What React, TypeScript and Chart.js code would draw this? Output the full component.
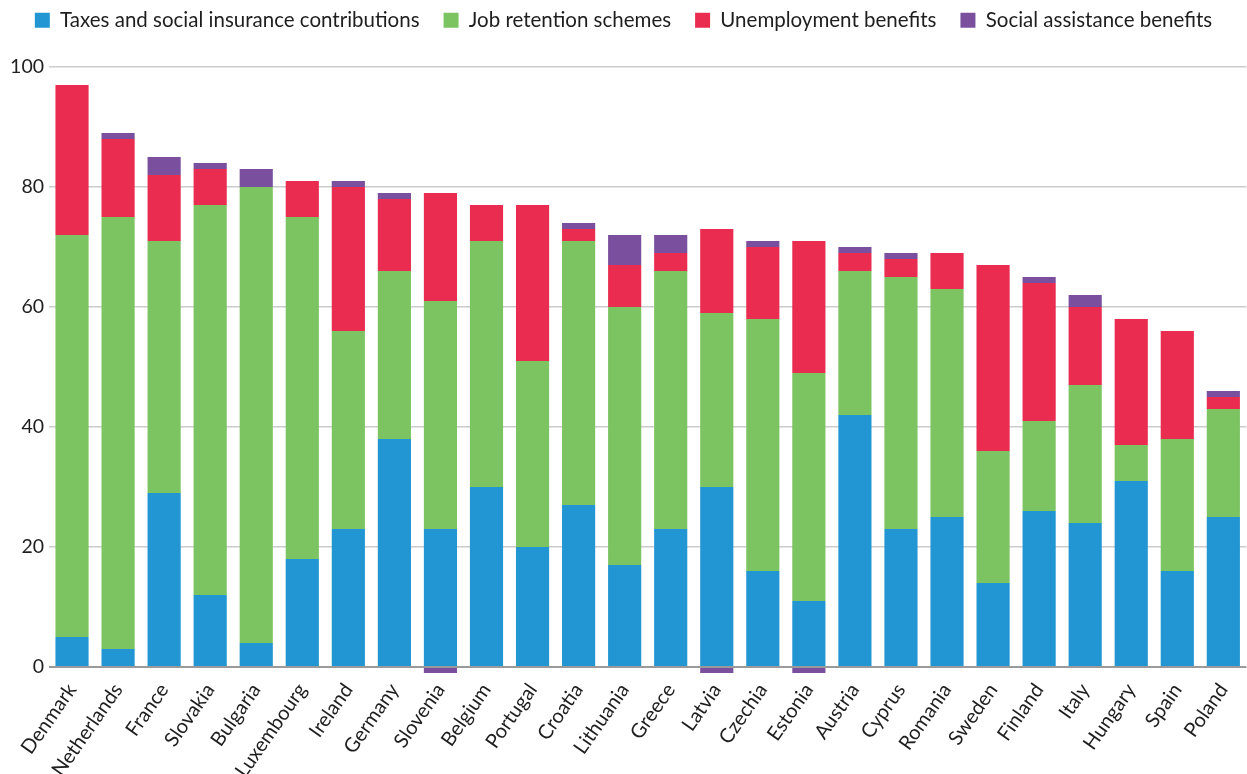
import React, { useEffect, useRef } from "react";
import { Chart, registerables } from "chart.js";

Chart.register(...registerables);

const countries = [
  "Denmark", "Netherlands", "France", "Slovakia", "Bulgaria", "Luxembourg", "Ireland",
  "Germany", "Slovenia", "Belgium", "Portugal", "Croatia", "Lithuania", "Greece",
  "Latvia", "Czechia", "Estonia", "Austria", "Cyprus", "Romania", "Sweden", "Finland",
  "Italy", "Hungary", "Spain", "Poland",
];

const taxes = [5, 3, 29, 12, 4, 18, 23, 38, 23, 30, 20, 27, 17, 23, 30, 16, 11, 42, 23, 25, 14, 26, 24, 31, 16, 25];
const jobRetention = [67, 72, 42, 65, 76, 57, 33, 28, 38, 41, 31, 44, 43, 43, 29, 42, 38, 24, 42, 38, 22, 15, 23, 6, 22, 18];
const unemployment = [25, 13, 11, 6, 0, 6, 24, 12, 18, 6, 26, 2, 7, 3, 14, 12, 22, 3, 3, 6, 31, 23, 13, 21, 18, 2];
const socialAssistance = [0, 1, 3, 1, 3, 0, 1, 1, -1, 0, 0, 1, 5, 3, -1, 1, -1, 1, 1, 0, 0, 1, 2, 0, 0, 1];

const yMin = 0;
const yMax = 100;
const yStep = 20;

const FONT = "Lato, 'Noto Sans', sans-serif";
const TEXT = "#1e1e1e";

export default function App() {
  const ref = useRef<HTMLCanvasElement>(null);

  useEffect(() => {
    document.body.style.margin = "0";
    const legendTweak = {
      id: "legendTweak",
      beforeInit(chart: any) {
        const lg = chart.legend;
        if (lg) {
          const orig = lg.fit.bind(lg);
          lg.fit = function () {
            orig();
            this.height = 67;
          };
        }
      },
      afterLayout(chart: any) {
        const lg = chart.legend;
        if (lg) {
          lg.top -= 14;
          lg.bottom -= 14;
        }
      },
    };

    const chart = new Chart(ref.current!, {
      type: "bar",
      data: {
        labels: countries,
        datasets: [
          { label: "Taxes and social insurance contributions", data: taxes, backgroundColor: "#2196d3" },
          { label: "Job retention schemes", data: jobRetention, backgroundColor: "#7cc462" },
          { label: "Unemployment benefits", data: unemployment, backgroundColor: "#e92c50" },
          { label: "Social assistance benefits", data: socialAssistance, backgroundColor: "#7a509e" },
        ],
      },
      plugins: [legendTweak],
      options: {
        responsive: false,
        animation: false,
        layout: { padding: { left: 0, right: 0, top: 0, bottom: 0 } },
        datasets: {
          bar: { categoryPercentage: 1, barPercentage: 0.72, clip: false, borderWidth: 0 } as any,
        },
        plugins: {
          legend: {
            position: "top",
            align: "center",
            labels: {
              boxWidth: 15,
              boxHeight: 15,
              padding: 24,
              color: TEXT,
              font: { family: FONT, size: 20.5 },
            },
          },
          tooltip: { enabled: false },
        },
        scales: {
          x: {
            stacked: true,
            grid: { display: false },
            border: { display: false },
            ticks: {
              autoSkip: false,
              minRotation: 55,
              maxRotation: 55,
              padding: 4,
              color: TEXT,
              font: { family: FONT, size: 20 },
            },
            afterFit: (s: any) => {
              s.height = 107;
            },
          },
          y: {
            stacked: true,
            min: yMin,
            max: yMax,
            ticks: {
              stepSize: yStep,
              padding: 5,
              color: TEXT,
              font: { family: FONT, size: 19.5 },
            },
            grid: {
              drawTicks: false,
              color: (ctx: any) => (ctx.tick && ctx.tick.value === 0 ? "#9a9a9a" : "#cccccc"),
              lineWidth: (ctx: any) => (ctx.tick && ctx.tick.value === 0 ? 2 : 1.5),
            },
            border: { display: false },
            afterFit: (s: any) => {
              s.width = 49;
            },
          },
        },
      },
    });
    return () => chart.destroy();
  }, []);

  return <canvas ref={ref} width={1247} height={774} style={{ display: "block" }} />;
}
